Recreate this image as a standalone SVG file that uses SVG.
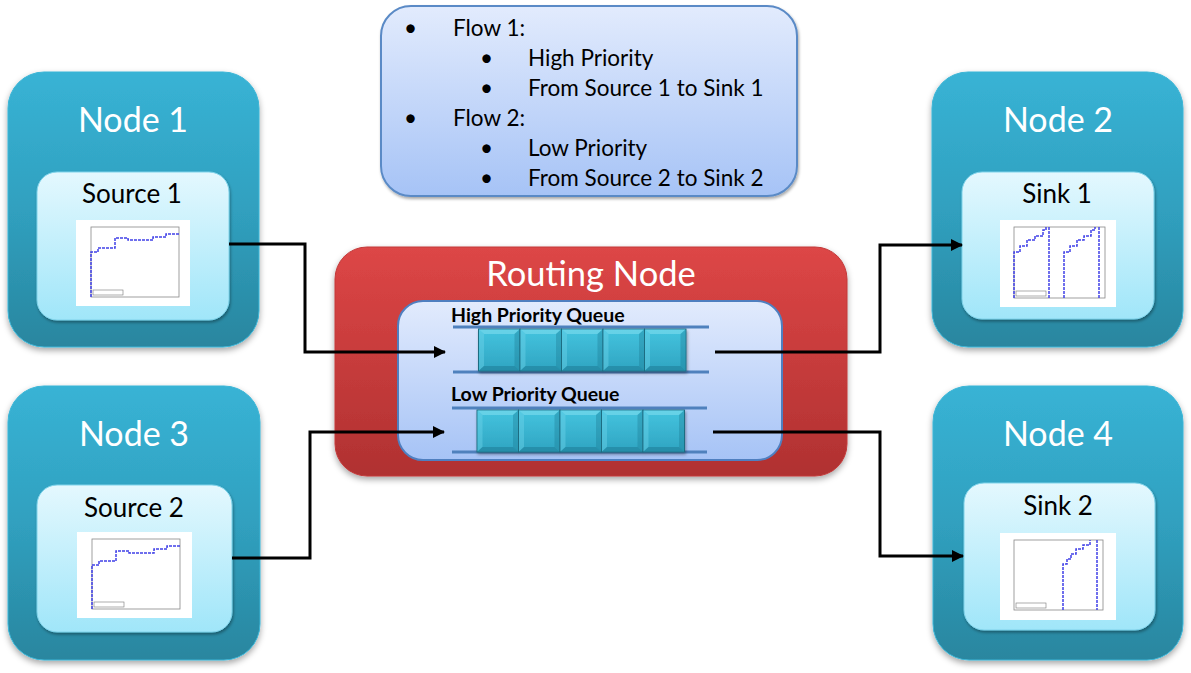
<svg xmlns="http://www.w3.org/2000/svg" width="1191" height="673" viewBox="0 0 1191 673">
<defs>
  <linearGradient id="gNode" x1="0" y1="0" x2="0" y2="1">
    <stop offset="0" stop-color="#38b3d5"/>
    <stop offset="0.5" stop-color="#30a0bf"/>
    <stop offset="1" stop-color="#29869f"/>
  </linearGradient>
  <linearGradient id="gInner" x1="0" y1="0" x2="0" y2="1">
    <stop offset="0" stop-color="#e4f8fe"/>
    <stop offset="1" stop-color="#a0e6f9"/>
  </linearGradient>
  <linearGradient id="gRed" x1="0" y1="0" x2="0" y2="1">
    <stop offset="0" stop-color="#dd4646"/>
    <stop offset="1" stop-color="#b03131"/>
  </linearGradient>
  <linearGradient id="gBlue" x1="0" y1="0" x2="0" y2="1">
    <stop offset="0" stop-color="#e2ebfd"/>
    <stop offset="1" stop-color="#a6c3f6"/>
  </linearGradient>
  <linearGradient id="gCell" x1="0" y1="0" x2="0" y2="1">
    <stop offset="0" stop-color="#44c4df"/>
    <stop offset="1" stop-color="#2fa4c1"/>
  </linearGradient>
  <filter id="shadow" x="-10%" y="-10%" width="120%" height="125%">
    <feDropShadow dx="0" dy="3" stdDeviation="3" flood-color="#000" flood-opacity="0.35"/>
  </filter>
  <filter id="shadowS" x="-10%" y="-10%" width="120%" height="130%">
    <feDropShadow dx="1" dy="2" stdDeviation="1.5" flood-color="#000" flood-opacity="0.35"/>
  </filter>
  <marker id="arrow" viewBox="0 0 12 12" refX="11" refY="6" markerWidth="12" markerHeight="12" markerUnits="userSpaceOnUse" orient="auto">
    <path d="M0,0 L12,6 L0,12 Z" fill="#000"/>
  </marker>
  <g id="cell">
    <rect x="0" y="0" width="41.5" height="42" fill="url(#gCell)" stroke="#1f6d82" stroke-width="1"/>
    <polygon points="0.5,0.5 41,0.5 36,5 5.5,5" fill="#7fdcef" opacity="0.6"/>
    <polygon points="0.5,0.5 5.5,5 5.5,37 0.5,41.5" fill="#6cd2e8" opacity="0.45"/>
    <polygon points="0.5,41.5 5.5,37 36,37 41,41.5" fill="#1d7891" opacity="0.5"/>
    <polygon points="41,0.5 41,41.5 36,37 36,5" fill="#1f7f99" opacity="0.4"/>
  </g>
</defs>
<style>
  .node { fill: url(#gNode); stroke: #3bb5d6; stroke-width: 1; }
  .inner { fill: url(#gInner); stroke: #7fd3ea; stroke-width: 1; }
  .title { font-family: Lato, "Liberation Sans", sans-serif; font-size: 34px; fill: #ffffff; text-anchor: middle; }
  .sub { font-family: Lato, "Liberation Sans", sans-serif; font-size: 26px; fill: #000000; text-anchor: middle; }
  .flow { font-family: Lato, "Liberation Sans", sans-serif; font-size: 22.5px; fill: #000000; }
  .q { font-family: Lato, "Liberation Sans", sans-serif; font-size: 19.5px; font-weight: bold; fill: #000000; }
  .rail { stroke: #4f81bd; stroke-width: 3; }
  .conn { fill: none; stroke: #000000; stroke-width: 3; }
  .plot { fill: #ffffff; }
  .axes { fill: none; stroke: #888888; stroke-width: 0.8; }
  .step { fill: none; stroke: #4040e8; stroke-width: 1.5; stroke-dasharray: 3 1; }
  .leg { fill: #ffffff; stroke: #777777; stroke-width: 0.6; }
</style>

<g id="flowbox">
  <rect x="381" y="6" width="416" height="190" rx="30" fill="url(#gBlue)" stroke="#5a8ac6" stroke-width="2" filter="url(#shadowS)"/>
  <text class="flow" x="404" y="36">•</text>
  <text class="flow" x="453" y="36">Flow 1:</text>
  <text class="flow" x="480" y="66">•</text>
  <text class="flow" x="528" y="66">High Priority</text>
  <text class="flow" x="480" y="96">•</text>
  <text class="flow" x="528" y="96">From Source 1 to Sink 1</text>
  <text class="flow" x="404" y="126">•</text>
  <text class="flow" x="453" y="126">Flow 2:</text>
  <text class="flow" x="480" y="156">•</text>
  <text class="flow" x="528" y="156">Low Priority</text>
  <text class="flow" x="480" y="186">•</text>
  <text class="flow" x="528" y="186">From Source 2 to Sink 2</text>
</g>

<g id="node1">
  <rect class="node" x="8" y="72" width="251" height="275" rx="36" filter="url(#shadow)"/>
  <text class="title" x="133" y="132">Node 1</text>
  <rect class="inner" x="37" y="172" width="192" height="148" rx="20" filter="url(#shadowS)"/>
  <text class="sub" x="132" y="203">Source 1</text>
  <rect class="plot" x="76" y="220" width="114" height="86"/>
  <rect class="axes" x="91" y="227" width="88" height="70"/>
  <polyline class="step" points="91,297 91,252 98,252 98,248 115,248 115,238 128,238 128,240 153,240 153,237 166,237 166,234 179,234"/>
  <rect class="leg" x="93" y="290" width="30" height="5"/>
</g>

<g id="node3">
  <rect class="node" x="8" y="386" width="252" height="274" rx="36" filter="url(#shadow)"/>
  <text class="title" x="134" y="446">Node 3</text>
  <rect class="inner" x="37" y="485" width="195" height="147" rx="20" filter="url(#shadowS)"/>
  <text class="sub" x="134" y="517">Source 2</text>
  <rect class="plot" x="77" y="532" width="115" height="86"/>
  <rect class="axes" x="92" y="539" width="88" height="70"/>
  <polyline class="step" points="92,609 92,565 99,565 99,561 116,561 116,551 129,551 129,553 154,553 154,549 167,549 167,546 180,546"/>
  <rect class="leg" x="94" y="602" width="30" height="5"/>
</g>

<g id="node2">
  <rect class="node" x="932" y="72" width="251" height="275" rx="36" filter="url(#shadow)"/>
  <text class="title" x="1058" y="132">Node 2</text>
  <rect class="inner" x="962" y="172" width="192" height="147" rx="20" filter="url(#shadowS)"/>
  <text class="sub" x="1057" y="203">Sink 1</text>
  <rect class="plot" x="1000" y="220" width="116" height="87"/>
  <rect class="axes" x="1014" y="227" width="91" height="71"/>
  <polyline class="step" points="1014,298 1014,252 1020,252 1020,246 1027,246 1027,240 1035,240 1035,236 1043,236 1043,230 1046,230 1046,227"/>
  <line class="step" x1="1049" y1="227" x2="1049" y2="298"/>
  <polyline class="step" points="1064,298 1064,252 1070,252 1070,246 1077,246 1077,240 1084,240 1084,236 1091,236 1091,230 1095,230 1095,227"/>
  <line class="step" x1="1099" y1="227" x2="1099" y2="298"/>
  <rect class="leg" x="1016" y="291" width="30" height="5"/>
</g>

<g id="node4">
  <rect class="node" x="933" y="386" width="250" height="274" rx="36" filter="url(#shadow)"/>
  <text class="title" x="1058" y="446">Node 4</text>
  <rect class="inner" x="964" y="483" width="191" height="147" rx="20" filter="url(#shadowS)"/>
  <text class="sub" x="1058" y="515">Sink 2</text>
  <rect class="plot" x="1000" y="533" width="116" height="87"/>
  <rect class="axes" x="1014" y="540" width="89" height="70"/>
  <polyline class="step" points="1063,610 1063,564 1067,564 1067,559 1071,559 1071,554 1076,554 1076,549 1083,549 1083,545 1090,545 1090,540"/>
  <line class="step" x1="1097" y1="540" x2="1097" y2="610"/>
  <rect class="leg" x="1016" y="603" width="30" height="5"/>
</g>

<g id="routing">
  <rect x="335" y="247" width="512" height="229" rx="32" fill="url(#gRed)" stroke="#c23a3a" stroke-width="1" filter="url(#shadow)"/>
  <text class="title" x="591" y="286" style="font-size:34.5px">Routing Node</text>
  <rect x="398" y="301" width="384" height="159" rx="25" fill="url(#gBlue)" stroke="#4f7fc0" stroke-width="2"/>
  <g id="highQueue">
    <text class="q" x="451" y="322">High Priority Queue</text>
    <line class="rail" x1="453" y1="327" x2="709" y2="327"/>
    <line class="rail" x1="453" y1="372" x2="709" y2="372"/>
    <g filter="url(#shadowS)">
      <use href="#cell" x="478.5" y="329"/>
      <use href="#cell" x="520" y="329"/>
      <use href="#cell" x="561.5" y="329"/>
      <use href="#cell" x="603" y="329"/>
      <use href="#cell" x="644.5" y="329"/>
    </g>
  </g>
  <g id="lowQueue">
    <text class="q" x="451" y="401">Low Priority Queue</text>
    <line class="rail" x1="452" y1="408" x2="707" y2="408"/>
    <line class="rail" x1="452" y1="452" x2="707" y2="452"/>
    <g filter="url(#shadowS)">
      <use href="#cell" x="477" y="410"/>
      <use href="#cell" x="518.5" y="410"/>
      <use href="#cell" x="560" y="410"/>
      <use href="#cell" x="601.5" y="410"/>
      <use href="#cell" x="643" y="410"/>
    </g>
  </g>
</g>

<g id="connectors">
  <polyline class="conn" points="229,244 305,244 305,352 445,352" marker-end="url(#arrow)"/>
  <polyline class="conn" points="232,558 310,558 310,432 444,432" marker-end="url(#arrow)"/>
  <polyline class="conn" points="715,352 880,352 880,245 962,245" marker-end="url(#arrow)"/>
  <polyline class="conn" points="713,432 880,432 880,556 963,556" marker-end="url(#arrow)"/>
</g>
</svg>
